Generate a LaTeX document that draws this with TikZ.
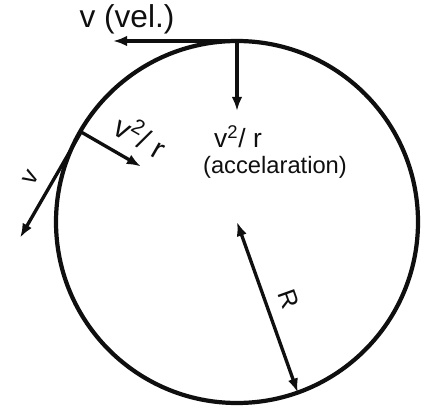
\documentclass[tikz,border=0pt]{standalone}
\usepackage{fontspec}
\setsansfont{Liberation Sans}
\usepackage{tikz}
\usetikzlibrary{arrows.meta}
\definecolor{inkblack}{RGB}{15, 15, 15}

\tikzset{
	vec/.style={-{Latex[length=8pt, width=6pt]}, line width=1.9pt, draw=inkblack},
	lbl/.style={text=inkblack, font=\sffamily, inner sep=1pt}
}

\begin{document}
\begin{tikzpicture}[x=0.02cm, y=0.02cm]
					\useasboundingbox (0,0) rectangle (428,412);
					% Trayectoria circular
					\coordinate (O) at (237,190);
					\draw[line width=2.4pt, draw=inkblack] (O) circle (181);
					\path (O) ++(90:181) coordinate (top);
					\path (O) ++(150:180) coordinate (side);
					\path (O) ++(-70.4:181) coordinate (rim);
					% Extremos de los vectores
					\path (top) ++(-124,0) coordinate (topv);
					\path (top) ++(0,-70) coordinate (topa);
					\path (side) ++(240:122) coordinate (sidev);
					\path (side) ++(-30:69) coordinate (sidea);
					\draw[vec] (top) -- (topv);
					\draw[vec] (top) -- (topa);
					\draw[vec] (side) -- (sidev) node[lbl, font=\sffamily\Large, sloped, above=6pt, pos=0.53] (vside) {v};
					\draw[vec] (side) -- (sidea) node[lbl, font=\fontsize{17}{19}\sffamily, sloped, above=6pt, pos=0.78] (aside) {v\textsuperscript{2}/ r};
					\draw[vec, {Latex[length=8pt, width=6pt]}-{Latex[length=8pt, width=6pt]}] (O) -- (rim) node[lbl, font=\sffamily\Large, sloped, above=6pt, midway] (rlab) {R};
					% Textos
					\node[lbl, font=\fontsize{18}{20}\sffamily] (vtop) at (127,393) {v (vel.)};
					\node[lbl, font=\fontsize{15}{17}\sffamily] (atop) at (238,275) {v\textsuperscript{2}/ r};
					\node[lbl, font=\fontsize{13.5}{15}\sffamily] (aname) at (275,245) {(accelaration)};
				\end{tikzpicture}
\end{document}
